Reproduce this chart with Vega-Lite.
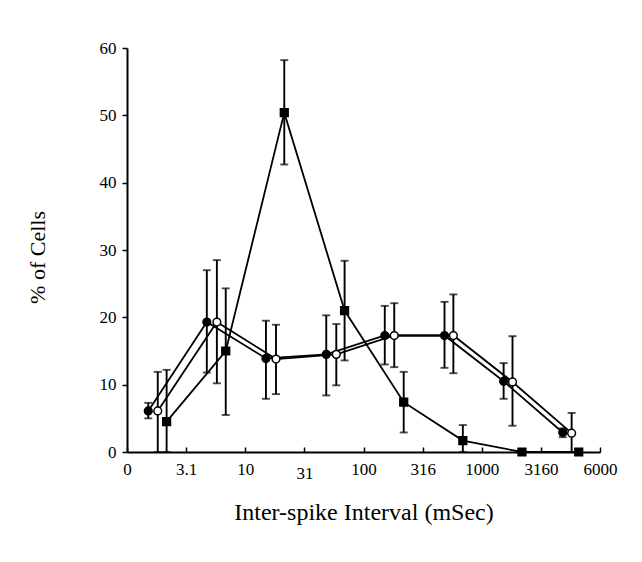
{
  "$schema": "https://vega.github.io/schema/vega-lite/v6.json",
  "width": 473,
  "height": 404,
  "autosize": "none",
  "padding": {"left": 127, "top": 48, "right": 42, "bottom": 110},
  "background": "white",
  "config": {
    "view": {"stroke": null},
    "font": "Liberation Serif",
    "axis": {
      "labelFont": "Liberation Serif",
      "titleFont": "Liberation Serif",
      "labelColor": "black",
      "titleColor": "black",
      "titleFontWeight": "normal",
      "labelFontSize": 17,
      "titleFontSize": 22,
      "domainColor": "black",
      "domainWidth": 2,
      "tickColor": "black",
      "tickWidth": 1.5,
      "grid": false
    }
  },
  "data": {
    "values": [
      {"series": "A", "x": 0.36, "y": 6.1, "lo": 5.0, "hi": 7.3},
      {"series": "A", "x": 1.35, "y": 19.3, "lo": 11.8, "hi": 27.0},
      {"series": "A", "x": 2.35, "y": 13.9, "lo": 7.9, "hi": 19.5},
      {"series": "A", "x": 3.37, "y": 14.5, "lo": 8.4, "hi": 20.3},
      {"series": "A", "x": 4.36, "y": 17.3, "lo": 13.0, "hi": 21.7},
      {"series": "A", "x": 5.37, "y": 17.3, "lo": 12.5, "hi": 22.3},
      {"series": "A", "x": 6.37, "y": 10.5, "lo": 7.9, "hi": 13.2},
      {"series": "A", "x": 7.37, "y": 2.9, "lo": 2.2, "hi": 3.5},
      {"series": "B", "x": 0.52, "y": 6.1, "lo": 0, "hi": 11.9},
      {"series": "B", "x": 1.52, "y": 19.3, "lo": 10.2, "hi": 28.5},
      {"series": "B", "x": 2.52, "y": 13.8, "lo": 8.6, "hi": 18.9},
      {"series": "B", "x": 3.54, "y": 14.5, "lo": 9.9, "hi": 19.0},
      {"series": "B", "x": 4.52, "y": 17.3, "lo": 12.6, "hi": 22.1},
      {"series": "B", "x": 5.52, "y": 17.3, "lo": 11.7, "hi": 23.4},
      {"series": "B", "x": 6.52, "y": 10.4, "lo": 3.9, "hi": 17.2},
      {"series": "B", "x": 7.52, "y": 2.8, "lo": 0, "hi": 5.8},
      {"series": "C", "x": 0.67, "y": 4.5, "lo": 0, "hi": 12.2},
      {"series": "C", "x": 1.67, "y": 15.0, "lo": 5.5, "hi": 24.3},
      {"series": "C", "x": 2.66, "y": 50.4, "lo": 42.7, "hi": 58.2},
      {"series": "C", "x": 3.68, "y": 21.0, "lo": 13.6, "hi": 28.4},
      {"series": "C", "x": 4.68, "y": 7.4, "lo": 2.9, "hi": 11.9},
      {"series": "C", "x": 5.68, "y": 1.7, "lo": 0, "hi": 4.0},
      {"series": "C", "x": 6.68, "y": 0, "lo": null, "hi": null},
      {"series": "C", "x": 7.64, "y": 0, "lo": null, "hi": null}
    ]
  },
  "layer": [
    {
      "mark": {"type": "line", "color": "black", "strokeWidth": 1.8},
      "encoding": {
        "x": {
          "field": "x", "type": "quantitative",
          "scale": {"domain": [0, 8], "nice": false, "zero": false},
          "axis": {
            "title": "Inter-spike Interval (mSec)",
            "titleFontSize": 24,
            "values": [0, 1, 2, 3, 4, 5, 6, 7, 8],
            "labelExpr": "['0','3.1','10','31','100','316','1000','3160','6000'][datum.value]",
            "tickSize": -5,
            "labelPadding": {"condition": {"test": "datum.value == 3", "value": 18}, "value": 14},
            "labelFlush": false,
            "labelOverlap": false,
            "titlePadding": 19
          }
        },
        "y": {
          "field": "y", "type": "quantitative",
          "scale": {"domain": [0, 60], "nice": false},
          "axis": {
            "title": "% of Cells",
            "values": [0, 5, 10, 15, 20, 25, 30, 35, 40, 45, 50, 55, 60],
            "labelExpr": "datum.value % 10 == 0 ? datum.label : ''",
            "tickSize": 5,
            "labelPadding": 6,
            "titlePadding": 50,
            "titleY": 209
          }
        },
        "detail": {"field": "series"}
      }
    },
    {
      "transform": [{"filter": "datum.hi != null"}],
      "mark": {"type": "rule", "color": "black", "strokeWidth": 1.9},
      "encoding": {
        "x": {"field": "x", "type": "quantitative"},
        "y": {"field": "lo", "type": "quantitative"},
        "y2": {"field": "hi"}
      }
    },
    {
      "transform": [{"filter": "datum.hi != null"}],
      "mark": {"type": "tick", "orient": "horizontal", "color": "black", "size": 8, "thickness": 1.9},
      "encoding": {
        "x": {"field": "x", "type": "quantitative"},
        "y": {"field": "hi", "type": "quantitative"}
      }
    },
    {
      "transform": [{"filter": "datum.hi != null"}],
      "mark": {"type": "tick", "orient": "horizontal", "color": "black", "size": 8, "thickness": 1.9},
      "encoding": {
        "x": {"field": "x", "type": "quantitative"},
        "y": {"field": "lo", "type": "quantitative"}
      }
    },
    {
      "mark": {"type": "point", "filled": false, "stroke": "black", "strokeWidth": 1.5, "opacity": 1},
      "encoding": {
        "x": {"field": "x", "type": "quantitative"},
        "y": {"field": "y", "type": "quantitative"},
        "shape": {"field": "series", "type": "nominal", "scale": {"domain": ["A", "B", "C"], "range": ["circle", "circle", "square"]}, "legend": null},
        "fill": {"field": "series", "type": "nominal", "scale": {"domain": ["A", "B", "C"], "range": ["black", "white", "black"]}, "legend": null},
        "size": {"value": 60}
      }
    }
  ]
}
